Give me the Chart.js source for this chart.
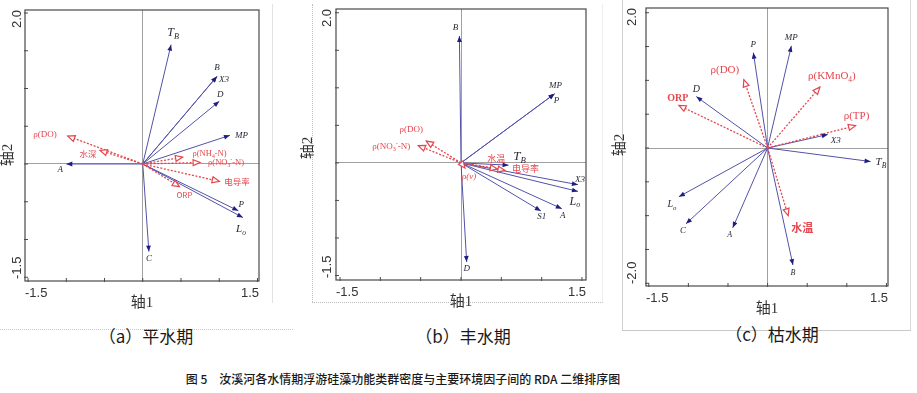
<!DOCTYPE html>
<html><head><meta charset="utf-8">
<script src="https://cdn.jsdelivr.net/npm/chart.js@4.4.1/dist/chart.umd.min.js"></script>
<style>
html,body{margin:0;padding:0;background:#fff}
body{width:917px;height:393px;overflow:hidden;position:relative;font-family:"Noto Sans CJK SC",sans-serif}
canvas{position:absolute;top:0}
.t{position:absolute;transform:translate(-50%,-50%);white-space:nowrap;color:#1a1a1a}
.ln{position:absolute;box-sizing:border-box}
</style></head><body>
<div class="ln" style="left:272px;top:4px;width:0;height:299px;border-left:1px solid #e2e2e2"></div>
<div class="ln" style="left:0;top:329px;width:293px;height:0;border-top:1px dotted #c8c8c8"></div>
<div class="ln" style="left:312px;top:4px;width:0;height:298px;border-left:1px dotted #bdbdbd"></div>
<div class="ln" style="left:312px;top:302px;width:291px;height:0;border-top:1px dotted #bdbdbd"></div>
<div class="ln" style="left:602px;top:4px;width:0;height:298px;border-left:1px solid #eeeeee"></div>
<div class="ln" style="left:622px;top:0;width:0;height:330px;border-left:1px solid #d0d0d0"></div>
<div class="ln" style="left:622px;top:330px;width:289px;height:0;border-top:1px solid #c8c8c8"></div>
<div class="ln" style="left:910px;top:0;width:0;height:330px;border-left:1px solid #d8d8d8"></div>

<canvas id="ca" width="300" height="318" style="left:0;width:300px;height:318px"></canvas>
<canvas id="cb" width="310" height="318" style="left:300px;width:310px;height:318px"></canvas>
<canvas id="cc" width="307" height="318" style="left:610px;width:307px;height:318px"></canvas>

<div class="t" style="left:146px;top:335px;font-size:17px">（a）平水期</div>
<div class="t" style="left:463px;top:335px;font-size:17px">（b）丰水期</div>
<div class="t" style="left:772px;top:333px;font-size:17px">（c）枯水期</div>
<div class="t" style="left:403px;top:378px;font-size:12px;font-weight:500">图 5　汝溪河各水情期浮游硅藻功能类群密度与主要环境因子间的 RDA 二维排序图</div>

<script>
// ================= DATA =================
// tick values and tick labels
const xTicksAB = [-1.5, -1.0, -0.5, 0, 0.5, 1.0, 1.5];
const yTicksAB = [-1.5, -1.0, -0.5, 0, 0.5, 1.0, 1.5, 2.0];
const yTicksC  = [-2.0, -1.5, -1.0, -0.5, 0, 0.5, 1.0, 1.5, 2.0];
const xTickLabelsAB = ['-1.5', '1.5'];
const yTickLabelsAB = ['-1.5', '2.0'];
const xTickLabelsC  = ['-1.5', '1.5'];
const yTickLabelsC  = ['-2.0', '2.0'];
const xAxisTitle = '轴1';
const yAxisTitle = '轴2';

// (a) 平水期 — functional groups (species scores)
const aSpecies  = ['T_{B}', 'B', 'X3', 'D', 'MP', 'A', 'C', 'P', 'L_{o}'];
const aSpeciesX = [0.37, 0.97, 0.97, 1.00, 1.14, -1.00, 0.08, 1.25, 1.31];
const aSpeciesY = [1.58, 1.16, 1.16, 0.83, 0.38, 0.00, -1.16, -0.62, -0.71];
// (a) environmental factors
const aEnv  = ['ρ(DO)', '水深', 'ρ(NH_{4}-N)', 'ρ(NO_{3}^{-}-N)', '电导率', 'ORP'];
const aEnvX = [-0.98, -0.56, 0.52, 0.75, 1.00, 0.48];
const aEnvY = [0.37, 0.18, 0.09, 0.02, -0.23, -0.30];

// (b) 丰水期
const bSpecies  = ['B', 'MP', 'P', 'T_{B}', 'X3', 'L_{o}', 'A', 'S1', 'D'];
const bSpeciesX = [-0.02, 1.16, 1.16, 0.59, 1.45, 1.45, 1.25, 0.99, 0.07];
const bSpeciesY = [1.69, 0.92, 0.92, -0.03, -0.29, -0.38, -0.61, -0.64, -1.32];
const bEnv  = ['ρ(DO)', 'ρ(NO_{3}^{-}-N)', '水温', '电导率', 'ρ(v)'];
const bEnvX = [-0.43, -0.53, 0.45, 0.545, 0.05];
const bEnvY = [0.29, 0.23, -0.08, -0.10, -0.07];

// (c) 枯水期
const cSpecies  = ['P', 'MP', 'D', 'X3', 'T_{B}', 'L_{o}', 'C', 'A', 'B'];
const cSpeciesX = [-0.18, 0.30, -0.90, 0.76, 1.30, -1.12, -1.03, -0.44, 0.32];
const cSpeciesY = [1.41, 1.51, 0.76, 0.20, -0.20, -0.72, -1.12, -1.18, -1.73];
const cEnv  = ['ORP', 'ρ(DO)', 'ρ(KMnO_{4})', 'ρ(TP)', '水温'];
const cEnvX = [-1.12, -0.30, 0.66, 1.11, 0.26];
const cEnvY = [0.63, 1.01, 0.90, 0.33, -1.00];

// ================= STYLE / LAYOUT =================
const SERIF = "'Liberation Serif','DejaVu Serif',serif";
const SANS_CJK = "'Noto Sans CJK SC','Liberation Sans',sans-serif";
const NAVY_LINE = '#5252a8', NAVY_HEAD = '#1e1e80', RED = '#e5464e';

// label placement: [dx, dy, align, size, family, style, weight]
const aSpLbl = [[2,-12,'center',12],[0,-9,'center',9],[7,3,'center',9],[1,-7,'center',9],[5,0,'left',9],[-6,6,'center',9],[0,7,'center',9],[3,-6,'center',9],[-2,12,'center',11]];
const aEnvLbl = [[-11,-1,'right',9,SERIF],[-12,3,'center',8.5,SANS_CJK],[10,-3.5,'left',8.5,SERIF],[8,0,'left',8.5,SERIF],[5,0,'left',8.5,SANS_CJK],[5,8,'center',8,SANS_CJK]];
const bSpLbl = [[-4,-8,'center',9],[1,-8,'center',9],[2,7,'center',9],[11,-9,'center',13],[2,-5,'center',9],[-3,10,'center',12],[1,7,'center',9],[1,6,'center',9],[0,7,'center',9]];
const bEnvLbl = [[-15,-11,'center',9,SERIF],[-8,1,'right',9,SERIF],[-1,-10,'center',9,SANS_CJK],[7,-2,'left',9,SANS_CJK],[4,8,'center',9,SERIF,'italic']];
const cSpLbl = [[0,-8,'center',9],[0,-8,'center',9],[0,-7,'center',10],[8,6,'center',9],[5,1,'left',11],[-7,8,'center',10],[-3,7,'center',9],[-3,7,'center',8],[0,8,'center',8]];
const cEnvLbl = [[-1,-7,'center',10,SERIF,'normal','bold'],[-19,-10,'center',11,SERIF],[12,-11,'center',11,SERIF],[1,-10,'center',11,SERIF],[14,12,'center',11,SANS_CJK,'normal','bold']];

// ================= HELPERS =================
function parseRich(s){
  const out=[]; let i=0, buf='';
  while(i<s.length){
    if((s[i]==='_'||s[i]==='^') && s[i+1]==='{'){
      if(buf){out.push({t:buf,m:0}); buf='';}
      const j=s.indexOf('}',i);
      out.push({t:s.slice(i+2,j), m:s[i]==='_'?1:2});
      i=j+1;
    } else { buf+=s[i]; i++; }
  }
  if(buf) out.push({t:buf,m:0});
  return out;
}
function drawRich(ctx, s, x, y, align, size, family, style, weight, color){
  const segs=parseRich(s);
  const f=(sz)=>`${style||'normal'} ${weight||'normal'} ${sz}px ${family}`;
  let w=0;
  segs.forEach(g=>{ctx.font=f(g.m?size*0.68:size); g.w=ctx.measureText(g.t).width; w+=g.w;});
  let cx = align==='left'?x:(align==='right'?x-w:x-w/2);
  ctx.textBaseline='middle'; ctx.textAlign='left'; ctx.fillStyle=color;
  segs.forEach(g=>{
    ctx.font=f(g.m?size*0.68:size);
    const dy=g.m===1?size*0.32:(g.m===2?-size*0.35:0);
    ctx.fillText(g.t,cx,y+dy); cx+=g.w;
  });
}
function head(ctx,x0,y0,x1,y1,open,color){
  const a=Math.atan2(y1-y0,x1-x0);
  const L=open?7:6, W=open?3:2.4;
  ctx.save(); ctx.translate(x1,y1); ctx.rotate(a);
  ctx.beginPath(); ctx.moveTo(0,0); ctx.lineTo(-L,-W); ctx.lineTo(-L,W); ctx.closePath();
  if(open){ ctx.fillStyle='#fff'; ctx.fill(); ctx.strokeStyle=color; ctx.lineWidth=1.2; ctx.stroke(); }
  else { ctx.fillStyle=color; ctx.fill(); }
  ctx.restore();
}

const biplotPlugin = {
  id:'biplot',
  afterDatasetsDraw(chart){
    const cfg=chart.options.plugins.biplot;
    const ctx=chart.ctx, xs=chart.scales.x, ys=chart.scales.y, ca=chart.chartArea;
    const ox=xs.getPixelForValue(0), oy=ys.getPixelForValue(0);
    ctx.save();
    // frame
    ctx.strokeStyle='#4a4a4a'; ctx.lineWidth=1.2;
    ctx.strokeRect(ca.left, ca.top, ca.right-ca.left, ca.bottom-ca.top);
    // tick marks (inward)
    ctx.lineWidth=1; ctx.strokeStyle='#4a4a4a';
    xs.ticks.forEach(t=>{const p=xs.getPixelForValue(t.value); ctx.beginPath(); ctx.moveTo(p,ca.bottom+1); ctx.lineTo(p,ca.bottom-3); ctx.stroke();});
    ys.ticks.forEach(t=>{const p=ys.getPixelForValue(t.value); ctx.beginPath(); ctx.moveTo(ca.left-1,p); ctx.lineTo(ca.left+3,p); ctx.stroke();});
    // tick labels
    ctx.fillStyle='#333'; ctx.font="13px 'Liberation Sans',Arial,sans-serif"; ctx.textBaseline='middle';
    ctx.textAlign='left'; ctx.fillText(cfg.xLabels[0], ca.left, ca.bottom+12);
    ctx.textAlign='right'; ctx.fillText(cfg.xLabels[1], ca.right, ca.bottom+12);
    ctx.save(); ctx.translate(ca.left-cfg.yLabelGap, ca.bottom-2); ctx.rotate(-Math.PI/2); ctx.textAlign='left'; ctx.fillText(cfg.yLabels[0],0,0); ctx.restore();
    ctx.save(); ctx.translate(ca.left-cfg.yLabelGap, ca.top); ctx.rotate(-Math.PI/2); ctx.textAlign='right'; ctx.fillText(cfg.yLabels[1],0,0); ctx.restore();
    // axis titles
    ctx.fillStyle='#333'; ctx.font="15px 'Liberation Serif','Noto Sans CJK SC',serif"; ctx.textAlign='center';
    ctx.fillText(xAxisTitle,(ca.left+ca.right)/2, ca.bottom+cfg.xTitleGap);
    ctx.save(); ctx.translate(ca.left-cfg.yTitleGap, cfg.yTitleY); ctx.rotate(-Math.PI/2); ctx.fillText(yAxisTitle,0,0); ctx.restore();
    // arrowheads and labels
    cfg.groups.forEach(g=>{
      g.names.forEach((n,i)=>{
        const px=xs.getPixelForValue(g.xs[i]), py=ys.getPixelForValue(g.ys[i]);
        head(ctx,ox,oy,px,py,g.open,g.headColor);
      });
    });
    cfg.groups.forEach(g=>{
      g.names.forEach((n,i)=>{
        const px=xs.getPixelForValue(g.xs[i]), py=ys.getPixelForValue(g.ys[i]);
        const L=g.lbl[i];
        drawRich(ctx,n,px+L[0],py+L[1],L[2],L[3],L[4]||g.family,L[5]||g.style,L[6]||'normal',g.textColor);
      });
    });
    ctx.restore();
  }
};

function makePanel(id, o){
  const ds=[];
  o.env.forEach((n,i)=>ds.push({label:n,data:[{x:0,y:0},{x:o.envX[i],y:o.envY[i]}],showLine:true,borderColor:RED,borderWidth:1.3,borderDash:[2,1.6],pointRadius:0,fill:false}));
  o.sp.forEach((n,i)=>ds.push({label:n,data:[{x:0,y:0},{x:o.spX[i],y:o.spY[i]}],showLine:true,borderColor:NAVY_LINE,borderWidth:1,pointRadius:0,fill:false}));
  return new Chart(document.getElementById(id),{
    type:'scatter',
    data:{datasets:ds},
    options:{
      responsive:false, animation:false, devicePixelRatio:1,
      layout:{padding:o.pad},
      plugins:{legend:{display:false},tooltip:{enabled:false},
        biplot:{xLabels:o.xLabels,yLabels:o.yLabels,xTitleGap:o.xTitleGap,yTitleGap:o.yTitleGap,yTitleY:o.yTitleY,yLabelGap:o.yLabelGap,
          groups:[
            {names:o.sp,xs:o.spX,ys:o.spY,lbl:o.spLbl,open:false,headColor:NAVY_HEAD,textColor:'#2a2a3a',family:SERIF,style:'italic'},
            {names:o.env,xs:o.envX,ys:o.envY,lbl:o.envLbl,open:true,headColor:RED,textColor:RED,family:SERIF,style:'normal'}
          ]}},
      scales:{
        x:{type:'linear',min:o.xr[0],max:o.xr[1],
           afterBuildTicks:s=>{s.ticks=o.xTicks.map(v=>({value:v}));},
           ticks:{display:false},border:{display:false},
           grid:{drawTicks:false,lineWidth:1,color:c=>(c.tick&&c.tick.value===0)?'#a0a0a0':'rgba(0,0,0,0)'}},
        y:{type:'linear',min:o.yr[0],max:o.yr[1],
           afterBuildTicks:s=>{s.ticks=o.yTicks.map(v=>({value:v}));},
           ticks:{display:false},border:{display:false},
           grid:{drawTicks:false,lineWidth:1,color:c=>(c.tick&&c.tick.value===0)?'#a0a0a0':'rgba(0,0,0,0)'}}
      }
    },
    plugins:[biplotPlugin]
  });
}

makePanel('ca',{sp:aSpecies,spX:aSpeciesX,spY:aSpeciesY,spLbl:aSpLbl,env:aEnv,envX:aEnvX,envY:aEnvY,envLbl:aEnvLbl,
  xr:[-1.54,1.52],yr:[-1.55,2.04],xTicks:xTicksAB,yTicks:yTicksAB,xLabels:xTickLabelsAB,yLabels:yTickLabelsAB,
  pad:{left:25,top:10,right:41,bottom:37},xTitleGap:22,yTitleGap:17,yTitleY:155,yLabelGap:8});
makePanel('cb',{sp:bSpecies,spX:bSpeciesX,spY:bSpeciesY,spLbl:bSpLbl,env:bEnv,envX:bEnvX,envY:bEnvY,envLbl:bEnvLbl,
  xr:[-1.55,1.55],yr:[-1.56,2.05],xTicks:xTicksAB,yTicks:yTicksAB,xLabels:xTickLabelsAB,yLabels:yTickLabelsAB,
  pad:{left:36,top:9,right:24,bottom:38},xTitleGap:22,yTitleGap:28,yTitleY:148,yLabelGap:9});
makePanel('cc',{sp:cSpecies,spX:cSpeciesX,spY:cSpeciesY,spLbl:cSpLbl,env:cEnv,envX:cEnvX,envY:cEnvY,envLbl:cEnvLbl,
  xr:[-1.535,1.52],yr:[-2.04,2.07],xTicks:xTicksAB,yTicks:yTicksC,xLabels:xTickLabelsC,yLabels:yTickLabelsC,
  pad:{left:36,top:8,right:29,bottom:32},xTitleGap:23,yTitleGap:26,yTitleY:145,yLabelGap:14});
</script>
</body></html>
